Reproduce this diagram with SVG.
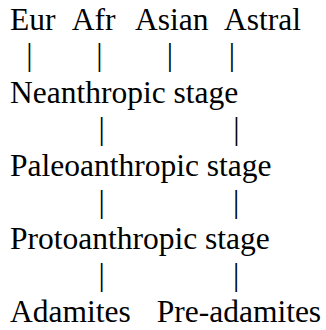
<svg xmlns="http://www.w3.org/2000/svg" width="326" height="330" viewBox="0 0 326 330">
<style>
text{font-family:"Liberation Serif","Times New Roman",serif;font-size:31.5px;fill:#000}
.p{text-anchor:middle}
</style>
<rect width="326" height="330" fill="#fff"/>
<g id="eur"><text x="10" y="29.7">Eur</text></g>
<g id="afr"><text x="71.7" y="29.7">Afr</text></g>
<g id="asian"><text x="135" y="29.7">Asian</text></g>
<g id="astral"><text x="224" y="29.7">Astral</text></g>
<g id="neanthropic"><text x="10" y="103.3">Neanthropic stage</text></g>
<g id="paleoanthropic"><text x="10" y="176">Paleoanthropic stage</text></g>
<g id="protoanthropic"><text x="10" y="249.3">Protoanthropic stage</text></g>
<g id="adamites"><text x="10" y="322">Adamites</text></g>
<g id="preadamites"><text x="156.7" y="322">Pre-adamites</text></g>
<g id="connectors">
<text class="p" x="29.3" y="64.5">|</text>
<text class="p" x="99.3" y="64.5">|</text>
<text class="p" x="170" y="64.5">|</text>
<text class="p" x="232" y="64.5">|</text>
<text class="p" x="101.7" y="138.5">|</text>
<text class="p" x="236.5" y="138.5">|</text>
<text class="p" x="101.7" y="211.5">|</text>
<text class="p" x="236.2" y="211.5">|</text>
<text class="p" x="101.7" y="284.5">|</text>
<text class="p" x="236.2" y="284.5">|</text>
</g>
</svg>
